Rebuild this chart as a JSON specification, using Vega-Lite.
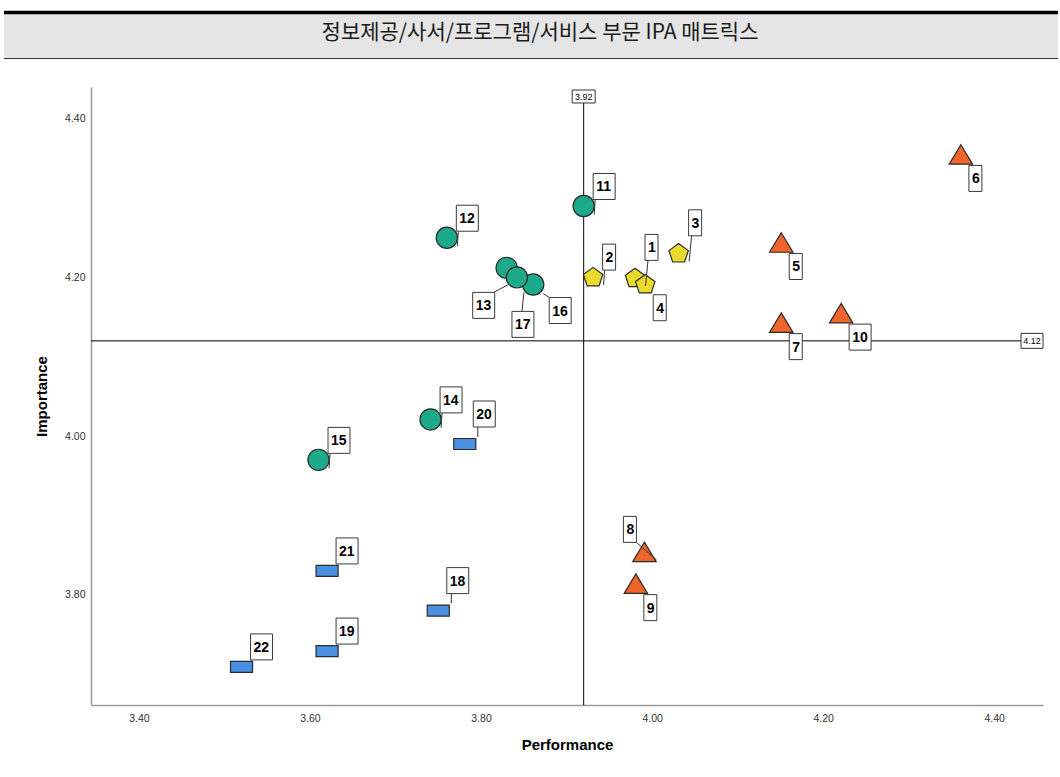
{
  "$schema": "https://vega.github.io/schema/vega-lite/v6.json",
  "width": 952,
  "height": 618,
  "padding": {"left": 2, "top": 10, "right": 0, "bottom": 10},
  "background": "#ffffff",
  "config": {
    "view": {"stroke": null},
    "axis": {
      "labelFont": "Liberation Sans", "labelFontSize": 10.5, "labelColor": "#333333",
      "titleFont": "Liberation Sans", "titleFontSize": 15, "titleFontWeight": "bold", "titleColor": "#000000",
      "gridColor": "#d9d9d9", "gridWidth": 1, "domainColor": "#9a9a9a", "domainWidth": 1.5, "ticks": false
    },
    "text": {"font": "Liberation Sans", "fontSize": 14, "fontWeight": "bold", "color": "#000000"}
  },
  "data": {"values": [
    {"id": 1, "perf": 3.980, "imp": 4.200, "group": "B"},
    {"id": 2, "perf": 3.931, "imp": 4.201, "group": "B"},
    {"id": 3, "perf": 4.031, "imp": 4.231, "group": "B"},
    {"id": 4, "perf": 3.992, "imp": 4.192, "group": "B"},
    {"id": 5, "perf": 4.151, "imp": 4.244, "group": "A"},
    {"id": 6, "perf": 4.361, "imp": 4.355, "group": "A"},
    {"id": 7, "perf": 4.151, "imp": 4.143, "group": "A"},
    {"id": 8, "perf": 3.991, "imp": 3.854, "group": "A"},
    {"id": 9, "perf": 3.981, "imp": 3.814, "group": "A"},
    {"id": 10, "perf": 4.221, "imp": 4.155, "group": "A"},
    {"id": 11, "perf": 3.920, "imp": 4.290, "group": "C"},
    {"id": 12, "perf": 3.760, "imp": 4.250, "group": "C"},
    {"id": 13, "perf": 3.830, "imp": 4.212, "group": "C"},
    {"id": 14, "perf": 3.741, "imp": 4.021, "group": "C"},
    {"id": 15, "perf": 3.610, "imp": 3.970, "group": "C"},
    {"id": 16, "perf": 3.861, "imp": 4.191, "group": "C"},
    {"id": 17, "perf": 3.842, "imp": 4.200, "group": "C"},
    {"id": 18, "perf": 3.750, "imp": 3.780, "group": "D"},
    {"id": 19, "perf": 3.620, "imp": 3.729, "group": "D"},
    {"id": 20, "perf": 3.781, "imp": 3.990, "group": "D"},
    {"id": 21, "perf": 3.620, "imp": 3.830, "group": "D"},
    {"id": 22, "perf": 3.520, "imp": 3.709, "group": "D"}
  ]},
  "layer": [
    {
      "data": {"values": [{}]},
      "mark": {"type": "rect", "color": "#e5e5e5"},
      "encoding": {
        "x": {"datum": 3.2423, "type": "quantitative"}, "x2": {"datum": 4.4745},
        "y": {"datum": 4.532, "type": "quantitative"}, "y2": {"datum": 4.4766}
      }
    },
    {
      "data": {"values": [{}]},
      "mark": {"type": "rule", "color": "#000000", "strokeWidth": 3.5},
      "encoding": {
        "x": {"datum": 3.2423, "type": "quantitative"}, "x2": {"datum": 4.4745},
        "y": {"datum": 4.5339, "type": "quantitative"}
      }
    },
    {
      "data": {"values": [{}]},
      "mark": {"type": "rule", "color": "#333333", "strokeWidth": 1.2},
      "encoding": {
        "x": {"datum": 3.2423, "type": "quantitative"}, "x2": {"datum": 4.4745},
        "y": {"datum": 4.4759, "type": "quantitative"}
      }
    },
    {
      "data": {"values": [{}]},
      "mark": {"type": "text", "text": "정보제공/사서/프로그램/서비스 부문 IPA 매트릭스", "font": "Noto Sans CJK KR", "fontSize": 21, "fontWeight": "normal", "color": "#1a1a1a", "align": "center", "baseline": "middle"},
      "encoding": {
        "x": {"datum": 3.869, "type": "quantitative"},
        "y": {"datum": 4.5075, "type": "quantitative"}
      }
    },
    {
      "data": {"values": [{}]},
      "mark": {"type": "rule", "color": "#000000", "strokeWidth": 1},
      "encoding": {
        "x": {"datum": 3.92, "type": "quantitative"},
        "y": {"datum": 3.661, "type": "quantitative"}, "y2": {"datum": 4.42}
      }
    },
    {
      "data": {"values": [{}]},
      "mark": {"type": "rule", "color": "#000000", "strokeWidth": 1},
      "encoding": {
        "x": {"datum": 3.344, "type": "quantitative"}, "x2": {"datum": 4.44},
        "y": {"datum": 4.12, "type": "quantitative"}
      }
    },
    {
      "data": {"values": [{}]},
      "mark": {"type": "point", "shape": "M-1,-0.565H1V0.565H-1Z", "size": 529, "filled": true, "fill": "#ffffff", "stroke": "#333333", "strokeWidth": 1, "opacity": 1, "yOffset": 9.5},
      "encoding": {
        "x": {"datum": 3.92, "type": "quantitative"},
        "y": {"datum": 4.44, "type": "quantitative"}
      }
    },
    {
      "data": {"values": [{}]},
      "mark": {"type": "text", "text": "3.92", "font": "Liberation Sans", "fontSize": 9, "fontWeight": "normal", "color": "#000000", "align": "center", "baseline": "middle", "dy": 10},
      "encoding": {
        "x": {"datum": 3.92, "type": "quantitative"},
        "y": {"datum": 4.44, "type": "quantitative"}
      }
    },
    {
      "data": {"values": [{}]},
      "mark": {"type": "point", "shape": "M-1,-0.68H1V0.68H-1Z", "size": 484, "filled": true, "fill": "#ffffff", "stroke": "#333333", "strokeWidth": 1, "opacity": 1, "xOffset": -11},
      "encoding": {
        "x": {"datum": 4.457, "type": "quantitative"},
        "y": {"datum": 4.12, "type": "quantitative"}
      }
    },
    {
      "data": {"values": [{}]},
      "mark": {"type": "text", "text": "4.12", "font": "Liberation Sans", "fontSize": 9, "fontWeight": "normal", "color": "#000000", "align": "center", "baseline": "middle", "dx": -11, "dy": 0.5},
      "encoding": {
        "x": {"datum": 4.457, "type": "quantitative"},
        "y": {"datum": 4.12, "type": "quantitative"}
      }
    },
    {
      "encoding": {
        "x": {"field": "perf", "type": "quantitative",
          "scale": {"domain": [3.344, 4.457], "nice": false, "zero": false},
          "axis": {"values": [3.4, 3.6, 3.8, 4.0, 4.2, 4.4], "format": ".2f", "title": "Performance", "labelPadding": 8, "titlePadding": 14}},
        "y": {"field": "imp", "type": "quantitative",
          "scale": {"domain": [3.661, 4.44], "nice": false, "zero": false},
          "axis": {"values": [3.8, 4.0, 4.2, 4.4], "format": ".2f", "title": "Importance", "labelPadding": 6, "titlePadding": 15}}
      },
      "layer": [
        {
          "mark": {"type": "point", "filled": true, "opacity": 1, "stroke": "#2b2b2b", "strokeWidth": 1.2},
          "encoding": {
            "shape": {"field": "group", "type": "nominal", "legend": null,
              "scale": {"domain": ["A", "B", "C", "D"], "range": ["M0,-1L1.2,1L-1.2,1Z", "M0,-0.905L0.951,-0.214L0.588,0.904L-0.588,0.904L-0.951,-0.214Z", "circle", "M-1,-0.5H1V0.5H-1Z"]}},
            "fill": {"field": "group", "type": "nominal", "legend": null,
              "scale": {"domain": ["A", "B", "C", "D"], "range": ["#F0652B", "#E9DA2D", "#1DA98B", "#4A8FE1"]}},
            "size": {"field": "group", "type": "ordinal", "legend": null,
              "scale": {"domain": ["A", "B", "C", "D"], "range": [380, 487, 441, 784]}}
          }
        },
        {
          "transform": [{"filter": "indexof([2,11,12,14,15], datum.id) >= 0"}],
          "layer": [
            {"mark": {"type": "rule", "color": "#333333", "strokeWidth": 1, "xOffset": 10.5, "yOffset": 8.5, "x2Offset": 11.5, "y2Offset": -6.5},
             "encoding": {"x2": {"field": "perf"}, "y2": {"field": "imp"}}},
            {"mark": {"type": "point", "filled": true, "fill": "#ffffff", "stroke": "#3a3a3a", "strokeWidth": 1, "opacity": 1, "size": 676, "xOffset": 9.5, "yOffset": -19.5},
             "encoding": {"shape": {"condition": {"test": "datum.id >= 10", "value": "M0,-1H1.69V1H0Z"}, "value": "M0,-1H1V1H0Z"}}},
            {"mark": {"type": "text", "align": "left", "baseline": "middle", "dx": 12.5, "dy": -18.5},
             "encoding": {"text": {"field": "id", "type": "nominal"}}}
          ]
        },
        {
          "transform": [{"filter": "indexof([19,21,22], datum.id) >= 0"}],
          "layer": [
            {"mark": {"type": "point", "filled": true, "fill": "#ffffff", "stroke": "#3a3a3a", "strokeWidth": 1, "opacity": 1, "size": 676, "xOffset": 9, "yOffset": -20},
             "encoding": {"shape": {"condition": {"test": "datum.id >= 10", "value": "M0,-1H1.69V1H0Z"}, "value": "M0,-1H1V1H0Z"}}},
            {"mark": {"type": "text", "align": "left", "baseline": "middle", "dx": 12, "dy": -19},
             "encoding": {"text": {"field": "id", "type": "nominal"}}}
          ]
        },
        {
          "transform": [{"filter": "indexof([1,3], datum.id) >= 0"}],
          "layer": [
            {"mark": {"type": "rule", "color": "#333333", "strokeWidth": 1, "xOffset": 10.5, "yOffset": 8.5, "x2Offset": 13, "y2Offset": -17},
             "encoding": {"x2": {"field": "perf"}, "y2": {"field": "imp"}}},
            {"mark": {"type": "point", "filled": true, "fill": "#ffffff", "stroke": "#3a3a3a", "strokeWidth": 1, "opacity": 1, "size": 676, "xOffset": 10, "yOffset": -30},
             "encoding": {"shape": {"condition": {"test": "datum.id >= 10", "value": "M0,-1H1.69V1H0Z"}, "value": "M0,-1H1V1H0Z"}}},
            {"mark": {"type": "text", "align": "left", "baseline": "middle", "dx": 13, "dy": -29},
             "encoding": {"text": {"field": "id", "type": "nominal"}}}
          ]
        },
        {
          "transform": [{"filter": "indexof([18,20], datum.id) >= 0"}],
          "layer": [
            {"mark": {"type": "rule", "color": "#333333", "strokeWidth": 1, "xOffset": 13, "yOffset": -7, "x2Offset": 13, "y2Offset": -17},
             "encoding": {"x2": {"field": "perf"}, "y2": {"field": "imp"}}},
            {"mark": {"type": "point", "filled": true, "fill": "#ffffff", "stroke": "#3a3a3a", "strokeWidth": 1, "opacity": 1, "size": 676, "xOffset": 8.5, "yOffset": -30},
             "encoding": {"shape": {"condition": {"test": "datum.id >= 10", "value": "M0,-1H1.69V1H0Z"}, "value": "M0,-1H1V1H0Z"}}},
            {"mark": {"type": "text", "align": "left", "baseline": "middle", "dx": 11.5, "dy": -29},
             "encoding": {"text": {"field": "id", "type": "nominal"}}}
          ]
        },
        {
          "transform": [{"filter": "indexof([4,5,6,7,9,10], datum.id) >= 0"}],
          "layer": [
            {"mark": {"type": "point", "filled": true, "fill": "#ffffff", "stroke": "#3a3a3a", "strokeWidth": 1, "opacity": 1, "size": 676, "xOffset": 8, "yOffset": 24},
             "encoding": {"shape": {"condition": {"test": "datum.id >= 10", "value": "M0,-1H1.69V1H0Z"}, "value": "M0,-1H1V1H0Z"}}},
            {"mark": {"type": "text", "align": "left", "baseline": "middle", "dx": 11, "dy": 25},
             "encoding": {"text": {"field": "id", "type": "nominal"}}}
          ]
        },
        {
          "transform": [{"filter": "datum.id == 13"}],
          "layer": [
            {"mark": {"type": "rule", "color": "#333333", "strokeWidth": 1, "xOffset": 1, "yOffset": 17, "x2Offset": -13, "y2Offset": 24.5},
             "encoding": {"x2": {"field": "perf"}, "y2": {"field": "imp"}}},
            {"mark": {"type": "point", "filled": true, "fill": "#ffffff", "stroke": "#3a3a3a", "strokeWidth": 1, "opacity": 1, "size": 676, "xOffset": -34, "yOffset": 37.5, "shape": "M0,-1H1.69V1H0Z"}},
            {"mark": {"type": "text", "align": "left", "baseline": "middle", "dx": -31, "dy": 38.5},
             "encoding": {"text": {"field": "id", "type": "nominal"}}}
          ]
        },
        {
          "transform": [{"filter": "datum.id == 17"}],
          "layer": [
            {"mark": {"type": "rule", "color": "#333333", "strokeWidth": 1, "xOffset": 7, "yOffset": 15, "x2Offset": 5, "y2Offset": 34},
             "encoding": {"x2": {"field": "perf"}, "y2": {"field": "imp"}}},
            {"mark": {"type": "point", "filled": true, "fill": "#ffffff", "stroke": "#3a3a3a", "strokeWidth": 1, "opacity": 1, "size": 676, "xOffset": -5, "yOffset": 47, "shape": "M0,-1H1.69V1H0Z"}},
            {"mark": {"type": "text", "align": "left", "baseline": "middle", "dx": -2, "dy": 48},
             "encoding": {"text": {"field": "id", "type": "nominal"}}}
          ]
        },
        {
          "transform": [{"filter": "datum.id == 16"}],
          "layer": [
            {"mark": {"type": "rule", "color": "#333333", "strokeWidth": 1, "xOffset": 10, "yOffset": 9, "x2Offset": 16, "y2Offset": 13},
             "encoding": {"x2": {"field": "perf"}, "y2": {"field": "imp"}}},
            {"mark": {"type": "point", "filled": true, "fill": "#ffffff", "stroke": "#3a3a3a", "strokeWidth": 1, "opacity": 1, "size": 676, "xOffset": 16, "yOffset": 26, "shape": "M0,-1H1.69V1H0Z"}},
            {"mark": {"type": "text", "align": "left", "baseline": "middle", "dx": 19, "dy": 27},
             "encoding": {"text": {"field": "id", "type": "nominal"}}}
          ]
        },
        {
          "transform": [{"filter": "datum.id == 8"}],
          "layer": [
            {"mark": {"type": "rule", "color": "#333333", "strokeWidth": 1, "xOffset": 12, "yOffset": 8, "x2Offset": -8, "y2Offset": -9.5},
             "encoding": {"x2": {"field": "perf"}, "y2": {"field": "imp"}}},
            {"mark": {"type": "point", "filled": true, "fill": "#ffffff", "stroke": "#3a3a3a", "strokeWidth": 1, "opacity": 1, "size": 676, "xOffset": -21, "yOffset": -22.5, "shape": "M0,-1H1V1H0Z"}},
            {"mark": {"type": "text", "align": "left", "baseline": "middle", "dx": -18, "dy": -21.5},
             "encoding": {"text": {"field": "id", "type": "nominal"}}}
          ]
        }
      ]
    }
  ]
}
